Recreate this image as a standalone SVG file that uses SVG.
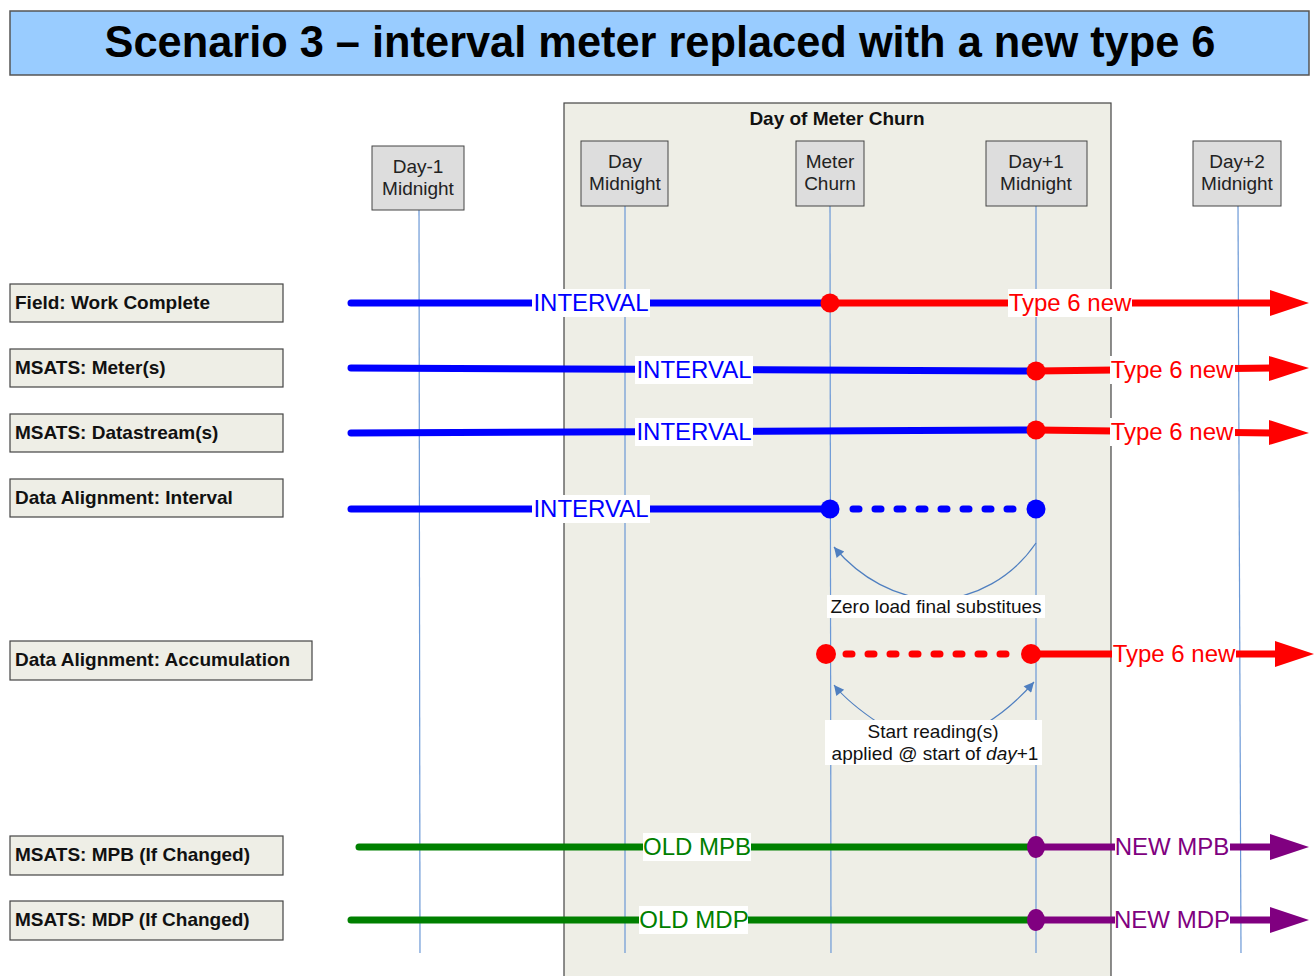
<svg xmlns="http://www.w3.org/2000/svg" width="1314" height="976" viewBox="0 0 1314 976">
<defs>
<style>
.lbl{fill:#eeeee6;stroke:#444;stroke-width:1.2}
.lbt{font-family:"Liberation Sans",Arial,sans-serif;font-weight:bold;font-size:19px;fill:#111}
.col{fill:#dddddd;stroke:#444;stroke-width:1}
.colt{font-family:"Liberation Sans",Arial,sans-serif;font-size:19px;fill:#222;text-anchor:middle}
.vl{stroke:#6b98d6;stroke-width:1.2;fill:none}
.ln{stroke-width:7;stroke-linecap:round;fill:none}
.bl{stroke:#0000ff}
.rd{stroke:#ff0000}
.gr{stroke:#008000}
.pu{stroke:#800080}
.dash{stroke-dasharray:6 16}
.tag{font-family:"Liberation Sans",Arial,sans-serif;font-size:24px;text-anchor:middle}
.wb{fill:#ffffff}
.note{font-family:"Liberation Sans",Arial,sans-serif;font-size:19px;fill:#111;text-anchor:middle}
.cv{stroke:#4f7fc0;stroke-width:1.2;fill:none}
</style>
<marker id="ah" viewBox="0 0 10 10" refX="10" refY="5" markerWidth="13" markerHeight="10" markerUnits="userSpaceOnUse" orient="auto">
<path d="M0,0 L10,5 L0,10 z" fill="#4f7fc0"/>
</marker>
</defs>
<rect width="1314" height="976" fill="#ffffff"/>

<g id="title">
<rect x="10" y="11" width="1299" height="64" fill="#99ccff" stroke="#555" stroke-width="1.5"/>
<text x="660" y="57" font-family="Liberation Sans,Arial,sans-serif" font-weight="bold" font-size="44" text-anchor="middle" textLength="1111" lengthAdjust="spacingAndGlyphs" fill="#000">Scenario 3 – interval meter replaced with a new type 6</text>
</g>

<g id="churn-day">
<rect x="564" y="103" width="547" height="880" fill="#eeeee6" stroke="#444" stroke-width="1.2"/>
<text x="837" y="125" class="lbt" text-anchor="middle">Day of Meter Churn</text>
</g>

<g id="timelines">
<line class="vl" x1="419" y1="210" x2="420" y2="953"/>
<line class="vl" x1="625" y1="206" x2="625" y2="953"/>
<line class="vl" x1="830" y1="206" x2="831" y2="953"/>
<line class="vl" x1="1036" y1="206" x2="1036" y2="953"/>
<line class="vl" x1="1238" y1="206" x2="1241" y2="953"/>
</g>

<g id="col-day-1"><rect class="col" x="372" y="146" width="92" height="64"/><text class="colt" x="418" y="173">Day-1</text><text class="colt" x="418" y="195">Midnight</text></g>
<g id="col-day"><rect class="col" x="581" y="141" width="87" height="65"/><text class="colt" x="625" y="168">Day</text><text class="colt" x="625" y="190">Midnight</text></g>
<g id="col-churn"><rect class="col" x="796" y="141" width="68" height="65"/><text class="colt" x="830" y="168">Meter</text><text class="colt" x="830" y="190">Churn</text></g>
<g id="col-day1"><rect class="col" x="986" y="141" width="101" height="65"/><text class="colt" x="1036" y="168">Day+1</text><text class="colt" x="1036" y="190">Midnight</text></g>
<g id="col-day2"><rect class="col" x="1193" y="141" width="88" height="65"/><text class="colt" x="1237" y="168">Day+2</text><text class="colt" x="1237" y="190">Midnight</text></g>

<g id="row-field"><rect class="lbl" x="10" y="284" width="273" height="38"/><text class="lbt" x="15" y="309">Field: Work Complete</text></g>
<g id="row-meters"><rect class="lbl" x="10" y="349" width="273" height="38"/><text class="lbt" x="15" y="374">MSATS: Meter(s)</text></g>
<g id="row-datastreams"><rect class="lbl" x="10" y="414" width="273" height="38"/><text class="lbt" x="15" y="439">MSATS: Datastream(s)</text></g>
<g id="row-interval"><rect class="lbl" x="10" y="479" width="273" height="38"/><text class="lbt" x="15" y="504">Data Alignment: Interval</text></g>
<g id="row-accum"><rect class="lbl" x="10" y="641" width="302" height="39"/><text class="lbt" x="15" y="666">Data Alignment: Accumulation</text></g>
<g id="row-mpb"><rect class="lbl" x="10" y="836" width="273" height="39"/><text class="lbt" x="15" y="861">MSATS: MPB (If Changed)</text></g>
<g id="row-mdp"><rect class="lbl" x="10" y="901" width="273" height="39"/><text class="lbt" x="15" y="926">MSATS: MDP (If Changed)</text></g>

<g id="connectors">
<line class="ln bl" x1="351" y1="303" x2="830" y2="303"/>
<line class="ln rd" x1="830" y1="303" x2="1272" y2="303" stroke-linecap="butt"/>
<polygon points="1270,290 1309,303 1270,316" fill="#ff0000"/>
<line class="ln bl" x1="351" y1="368" x2="1036" y2="371"/>
<line class="ln rd" x1="1036" y1="371" x2="1272" y2="368" stroke-linecap="butt"/>
<polygon points="1269,356 1309,368 1269,381" fill="#ff0000"/>
<line class="ln bl" x1="351" y1="433" x2="1036" y2="430"/>
<line class="ln rd" x1="1036" y1="430" x2="1272" y2="433" stroke-linecap="butt"/>
<polygon points="1269,420 1309,433 1269,445" fill="#ff0000"/>
<line class="ln bl" x1="351" y1="509" x2="830" y2="509"/>
<line class="ln bl dash" x1="853" y1="509" x2="1025" y2="509"/>
<line class="ln rd dash" x1="846" y1="654" x2="1020" y2="654"/>
<line class="ln rd" x1="1031" y1="654" x2="1277" y2="654" stroke-linecap="butt"/>
<polygon points="1275,641 1314,654 1275,667" fill="#ff0000"/>
<line class="ln gr" x1="359" y1="847" x2="1036" y2="847"/>
<line class="ln pu" x1="1036" y1="847" x2="1272" y2="847" stroke-linecap="butt"/>
<polygon points="1270,834 1309,847 1270,860" fill="#800080"/>
<line class="ln gr" x1="351" y1="920" x2="1036" y2="920"/>
<line class="ln pu" x1="1036" y1="920" x2="1272" y2="920" stroke-linecap="butt"/>
<polygon points="1270,907 1309,920 1270,933" fill="#800080"/>
<path class="cv" d="M1036,543 C1012,578 975,598 936,600 C896,598 860,578 834,547" marker-end="url(#ah)"/>
<path class="cv" d="M880,724 C862,712 846,700 834,685" marker-end="url(#ah)"/>
<path class="cv" d="M985,724 C1005,712 1020,698 1034,682" marker-end="url(#ah)"/>
</g>

<g id="dots">
<circle cx="830" cy="303" r="9.5" fill="#ff0000"/>
<circle cx="1036" cy="371" r="9.5" fill="#ff0000"/>
<circle cx="1036" cy="430" r="9.5" fill="#ff0000"/>
<circle cx="830" cy="509" r="9.5" fill="#0000ff"/>
<circle cx="1036" cy="509" r="9.5" fill="#0000ff"/>
<circle cx="826" cy="654" r="10" fill="#ff0000"/>
<circle cx="1031" cy="654" r="10" fill="#ff0000"/>
<ellipse cx="1036" cy="847" rx="9" ry="11" fill="#800080"/>
<ellipse cx="1036" cy="920" rx="9" ry="11" fill="#800080"/>
</g>

<g id="line-labels">
<rect class="wb" x="532" y="289" width="118" height="28"/><text class="tag" x="591" y="311" fill="#0000ff">INTERVAL</text>
<rect class="wb" x="1008" y="289" width="124" height="28"/><text class="tag" x="1070" y="311" fill="#ff0000">Type 6 new</text>
<rect class="wb" x="635" y="356" width="118" height="28"/><text class="tag" x="694" y="378" fill="#0000ff">INTERVAL</text>
<rect class="wb" x="1110" y="356" width="125" height="28"/><text class="tag" x="1172" y="378" fill="#ff0000">Type 6 new</text>
<rect class="wb" x="635" y="418" width="118" height="28"/><text class="tag" x="694" y="440" fill="#0000ff">INTERVAL</text>
<rect class="wb" x="1110" y="418" width="125" height="28"/><text class="tag" x="1172" y="440" fill="#ff0000">Type 6 new</text>
<rect class="wb" x="532" y="495" width="118" height="28"/><text class="tag" x="591" y="517" fill="#0000ff">INTERVAL</text>
<rect class="wb" x="1112" y="640" width="124" height="28"/><text class="tag" x="1174" y="662" fill="#ff0000">Type 6 new</text>
<rect class="wb" x="643" y="833" width="108" height="28"/><text class="tag" x="697" y="855" fill="#008000">OLD MPB</text>
<rect class="wb" x="1115" y="833" width="115" height="28"/><text class="tag" x="1172" y="855" fill="#800080">NEW MPB</text>
<rect class="wb" x="639" y="906" width="109" height="28"/><text class="tag" x="694" y="928" fill="#008000">OLD MDP</text>
<rect class="wb" x="1115" y="906" width="115" height="28"/><text class="tag" x="1172" y="928" fill="#800080">NEW MDP</text>
</g>

<g id="note-zero">
<rect class="wb" x="827" y="595" width="218" height="23"/>
<text class="note" x="936" y="613">Zero load final substitues</text>
</g>
<g id="note-start">
<rect class="wb" x="825" y="720" width="217" height="45"/>
<text class="note" x="933" y="738">Start reading(s)</text>
<text class="note" x="935" y="760">applied @ start of <tspan font-style="italic">day</tspan>+1</text>
</g>
</svg>
